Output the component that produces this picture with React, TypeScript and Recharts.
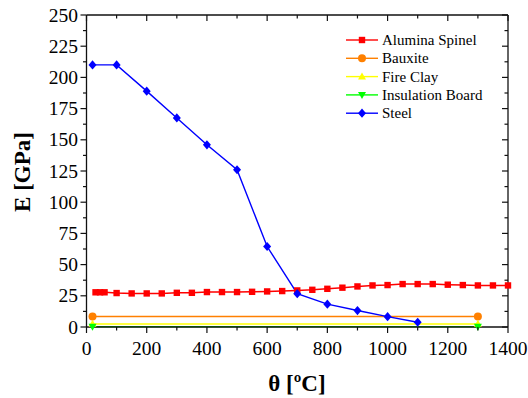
import React from 'react';
import { LineChart, Line, XAxis, YAxis } from 'recharts';

// ---------- data ----------
const aluminaTemps = [30, 45, 60, 100, 150, 200, 250, 300, 350, 400, 450, 500, 550, 600, 650, 700, 750, 800, 850, 900, 950, 1000, 1050, 1100, 1150, 1200, 1250, 1300, 1350, 1400];
const aluminaE = [27.8, 27.8, 27.8, 27.2, 26.9, 26.9, 26.9, 27.4, 27.4, 28, 28, 28, 28.2, 28.5, 28.8, 29.3, 29.8, 30.6, 31.5, 32.5, 33.3, 33.6, 34.4, 34.4, 34.4, 33.9, 33.6, 33.3, 33.3, 33.3];

const bauxiteTemps = [20, 1300];
const bauxiteE = [8.4, 8.4];

const fireClayTemps = [20, 1300];
const fireClayE = [2.4, 2.4];

const insulationTemps = [20, 1300];
const insulationE = [0.3, 0.3];

const steelTemps = [20, 100, 200, 300, 400, 500, 600, 700, 800, 900, 1000, 1100];
const steelE = [210, 210, 189, 167.5, 146, 126, 64.5, 26.7, 18.3, 13.2, 8.3, 3.8];

const xTicks = [0, 100, 200, 300, 400, 500, 600, 700, 800, 900, 1000, 1100, 1200, 1300, 1400];
const xLabelTicks = [0, 200, 400, 600, 800, 1000, 1200, 1400];
const yTicks = [0, 12.5, 25, 37.5, 50, 62.5, 75, 87.5, 100, 112.5, 125, 137.5, 150, 162.5, 175, 187.5, 200, 212.5, 225, 237.5, 250];
const yLabelTicks = [0, 25, 50, 75, 100, 125, 150, 175, 200, 225, 250];

const seriesNames = ['Alumina Spinel', 'Bauxite', 'Fire Clay', 'Insulation Board', 'Steel'];

const zip = (xs: number[], ys: number[]) => xs.map((x, i) => ({ x, y: ys[i] }));

const seriesData = [
  zip(aluminaTemps, aluminaE),
  zip(bauxiteTemps, bauxiteE),
  zip(fireClayTemps, fireClayE),
  zip(insulationTemps, insulationE),
  zip(steelTemps, steelE),
];

// ---------- styles ----------
const W = 528;
const H = 398;
const FONT = '"Liberation Serif", "Times New Roman", serif';
const STYLES = [
  { color: '#ff0000', shape: 'square' },
  { color: '#ff8000', shape: 'circle' },
  { color: '#ffff00', shape: 'up' },
  { color: '#00ff00', shape: 'down' },
  { color: '#0000ff', shape: 'diamond' },
];

function Marker({ shape, cx, cy, color }: { shape: string; cx: number; cy: number; color: string }) {
  switch (shape) {
    case 'square':
      return <rect x={cx - 3.2} y={cy - 3.2} width={6.4} height={6.4} fill={color} />;
    case 'circle':
      return <circle cx={cx} cy={cy} r={4} fill={color} />;
    case 'up':
      return <polygon points={`${cx},${cy - 4.2} ${cx + 4},${cy + 2.8} ${cx - 4},${cy + 2.8}`} fill={color} />;
    case 'down':
      return <polygon points={`${cx},${cy + 4.2} ${cx + 4},${cy - 2.8} ${cx - 4},${cy - 2.8}`} fill={color} />;
    default:
      return <polygon points={`${cx},${cy - 4.6} ${cx + 4},${cy} ${cx},${cy + 4.6} ${cx - 4},${cy}`} fill={color} />;
  }
}

const makeDot = (shape: string, color: string) => (p: any) => {
  const { cx, cy, key, index } = p;
  const k = key ?? `d-${shape}-${index}`;
  if (cx == null || cy == null) return <g key={k} />;
  return (
    <g key={k}>
      <Marker shape={shape} cx={cx} cy={cy} color={color} />
    </g>
  );
};

const TICK_COLOR = '#111';

function BottomTick(props: any) {
  const { x, y, payload } = props;
  const v = payload.value;
  const major = xLabelTicks.includes(v);
  return (
    <g>
      <line x1={x} y1={y} x2={x} y2={y + (major ? 6 : 3.5)} stroke={TICK_COLOR} strokeWidth={1.2} />
      {major && (
        <text x={x} y={y + 28} textAnchor="middle" fontFamily={FONT} fontSize={19.5} fill="#000">
          {v}
        </text>
      )}
    </g>
  );
}

function TopTick(props: any) {
  const { x, y, payload } = props;
  const major = xLabelTicks.includes(payload.value);
  return <line x1={x} y1={y} x2={x} y2={y + (major ? 6 : 3.5)} stroke={TICK_COLOR} strokeWidth={1.2} />;
}

function LeftTick(props: any) {
  const { x, y, payload } = props;
  const v = payload.value;
  const major = yLabelTicks.includes(v);
  return (
    <g>
      <line x1={x - (major ? 6 : 3.5)} y1={y} x2={x} y2={y} stroke={TICK_COLOR} strokeWidth={1.2} />
      {major && (
        <text x={x - 8.5} y={y + 6.5} textAnchor="end" fontFamily={FONT} fontSize={19.5} fill="#000">
          {v}
        </text>
      )}
    </g>
  );
}

function RightTick(props: any) {
  const { x, y, payload } = props;
  const major = yLabelTicks.includes(payload.value);
  return <line x1={x - (major ? 6 : 3.5)} y1={y} x2={x} y2={y} stroke={TICK_COLOR} strokeWidth={1.2} />;
}

function XTitle(_p: any) {
  return (
    <text x={297} y={391} textAnchor="middle" fontFamily={FONT} fontWeight="bold" fontSize={23} fill="#000">
      θ [ºC]
    </text>
  );
}

function YTitle(_p: any) {
  return (
    <text
      x={22}
      y={172}
      transform="rotate(-90 22 172)"
      textAnchor="middle"
      dominantBaseline="central"
      fontFamily={FONT}
      fontWeight="bold"
      fontSize={23}
      fill="#000"
    >
      E [GPa]
    </text>
  );
}

function LegendOverlay() {
  return (
    <svg width={W} height={H} style={{ position: 'absolute', left: 0, top: 0, pointerEvents: 'none' }}>
      {seriesNames.map((name, i) => {
        const y = 40 + i * 18.3;
        const st = STYLES[i];
        return (
          <g key={name}>
            <line x1={346} x2={378} y1={y} y2={y} stroke={st.color} strokeWidth={1.4} />
            <Marker shape={st.shape} cx={362} cy={y} color={st.color} />
            <text x={382} y={y + 5} fontFamily={FONT} fontSize={15} fill="#000">
              {name}
            </text>
          </g>
        );
      })}
    </svg>
  );
}

export default function App() {
  const axisLine = { stroke: '#111', strokeWidth: 1.3 };
  return (
    <div style={{ position: 'absolute', left: 0, top: 0, width: W, height: H, background: '#fff' }}>
      <LineChart width={W} height={H} margin={{ top: 15, right: 20, bottom: 41, left: 26.5 }}>
        <XAxis
          xAxisId="b"
          type="number"
          dataKey="x"
          domain={[0, 1400]}
          ticks={xTicks}
          interval={0}
          height={30}
          tickSize={0}
          tickMargin={0}
          tickLine={false}
          axisLine={axisLine}
          tick={BottomTick}
          label={<XTitle />}
        />
        <XAxis
          xAxisId="t"
          orientation="top"
          mirror
          type="number"
          dataKey="x"
          domain={[0, 1400]}
          ticks={xTicks}
          interval={0}
          tickSize={0}
          tickMargin={0}
          tickLine={false}
          axisLine={axisLine}
          tick={TopTick}
        />
        <YAxis
          yAxisId="l"
          type="number"
          domain={[0, 250]}
          ticks={yTicks}
          interval={0}
          width={60}
          tickSize={0}
          tickMargin={0}
          tickLine={false}
          axisLine={axisLine}
          tick={LeftTick}
          label={<YTitle />}
        />
        <YAxis
          yAxisId="r"
          orientation="right"
          mirror
          type="number"
          domain={[0, 250]}
          ticks={yTicks}
          interval={0}
          tickSize={0}
          tickMargin={0}
          tickLine={false}
          axisLine={axisLine}
          tick={RightTick}
        />
        {seriesData.map((d, i) => (
          <Line
            key={seriesNames[i]}
            name={seriesNames[i]}
            data={d}
            xAxisId="b"
            yAxisId="l"
            dataKey="y"
            type="linear"
            stroke={STYLES[i].color}
            strokeWidth={1.4}
            dot={makeDot(STYLES[i].shape, STYLES[i].color)}
            activeDot={false}
            isAnimationActive={false}
          />
        ))}
        {/* hidden series so mirrored axes have data */}
        <Line
          data={seriesData[1]}
          xAxisId="t"
          yAxisId="r"
          dataKey="y"
          stroke="none"
          dot={false}
          activeDot={false}
          isAnimationActive={false}
          legendType="none"
        />
      </LineChart>
      <LegendOverlay />
    </div>
  );
}
